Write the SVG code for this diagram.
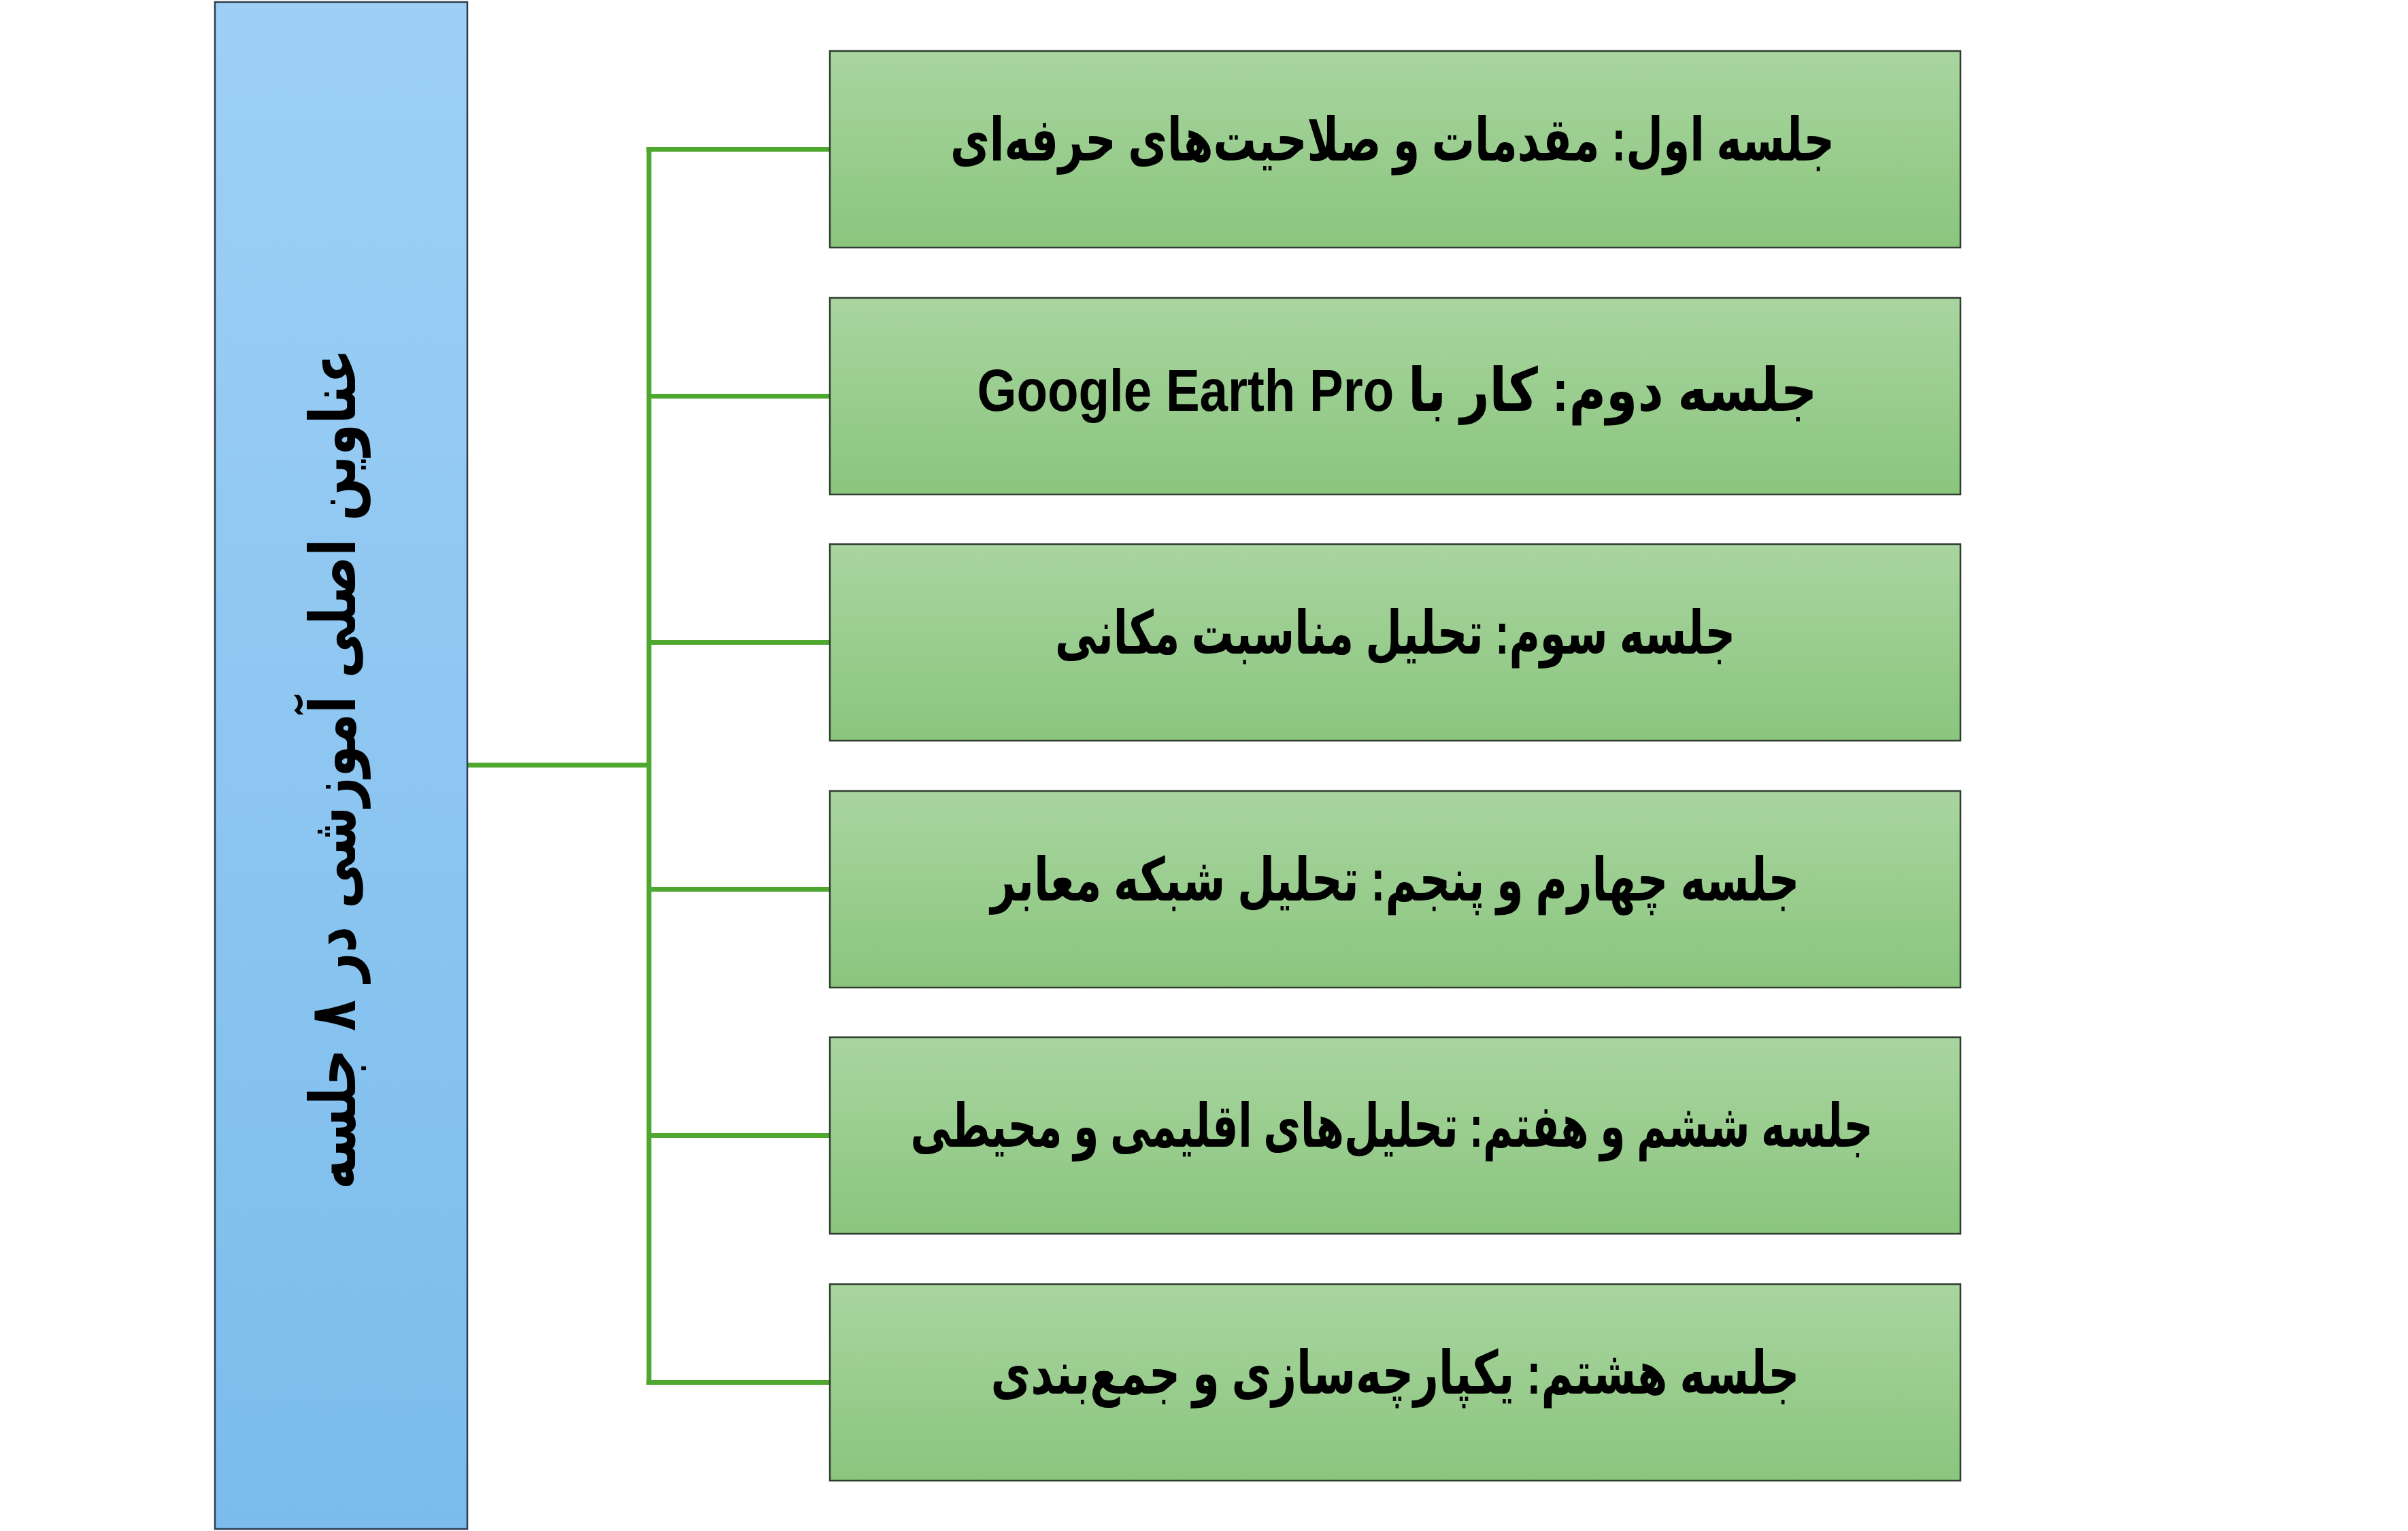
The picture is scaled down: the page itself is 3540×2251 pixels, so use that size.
<svg xmlns="http://www.w3.org/2000/svg" width="3540" height="2251" viewBox="0 0 3540 2251">
  <defs>
    <linearGradient id="gBlue" x1="0" y1="0" x2="0" y2="1">
      <stop offset="0" stop-color="#9ED0F6"/>
      <stop offset="1" stop-color="#7BBCEC"/>
    </linearGradient>
    <linearGradient id="gGreen" x1="0" y1="0" x2="0" y2="1">
      <stop offset="0" stop-color="#A9D5A0"/>
      <stop offset="1" stop-color="#8AC57D"/>
    </linearGradient>
  </defs>
  <style>
    .root { fill: url(#gBlue); stroke: #2E3E50; stroke-width: 2.5; }
    .box { fill: url(#gGreen); stroke: #2F3D2F; stroke-width: 2.5; }
    .conn { fill: none; stroke: #4EA72E; stroke-width: 7; stroke-linecap: butt; stroke-linejoin: miter; }
    .lbl { font-family: "Liberation Sans", "DejaVu Sans", sans-serif; font-weight: bold; font-size: 88px; fill: #000000; }
    .title { font-family: "DejaVu Sans", sans-serif; font-weight: bold; font-size: 94px; fill: #000000; }
  </style>
  <g id="connectors">
    <path class="conn" d="M687 1125 H954"/>
    <path class="conn" d="M954 216 V2036"/>
    <path class="conn" d="M950.5 219.5 H1220"/>
    <path class="conn" d="M954 582.5 H1220"/>
    <path class="conn" d="M954 944.5 H1220"/>
    <path class="conn" d="M954 1307.5 H1220"/>
    <path class="conn" d="M954 1669.5 H1220"/>
    <path class="conn" d="M950.5 2032.5 H1220"/>
  </g>
  <g id="root">
    <rect class="root" x="316" y="3" width="371" height="2245"/>
    <text class="title" direction="rtl" text-anchor="middle" transform="translate(522,1131) rotate(-90)" x="0" y="0" textLength="1236" lengthAdjust="spacingAndGlyphs">عناوین اصلی آموزشی در ۸ جلسه</text>
  </g>
  <g id="session1">
    <rect class="box" x="1220" y="75" width="1662" height="289"/>
    <text class="lbl" direction="rtl" text-anchor="middle" x="2047" y="236" textLength="1300" lengthAdjust="spacingAndGlyphs">جلسه اول: مقدمات و صلاحیت‌های حرفه‌ای</text>
  </g>
  <g id="session2">
    <rect class="box" x="1220" y="438" width="1662" height="289"/>
    <text class="lbl" direction="rtl" text-anchor="middle" x="2054" y="604" textLength="1235" lengthAdjust="spacingAndGlyphs">جلسه دوم: کار با Google Earth Pro</text>
  </g>
  <g id="session3">
    <rect class="box" x="1220" y="800" width="1662" height="289"/>
    <text class="lbl" direction="rtl" text-anchor="middle" x="2051" y="961" textLength="1000" lengthAdjust="spacingAndGlyphs">جلسه سوم: تحلیل مناسبت مکانی</text>
  </g>
  <g id="session4">
    <rect class="box" x="1220" y="1163" width="1662" height="289"/>
    <text class="lbl" direction="rtl" text-anchor="middle" x="2051" y="1324" textLength="1189" lengthAdjust="spacingAndGlyphs">جلسه چهارم و پنجم: تحلیل شبکه معابر</text>
  </g>
  <g id="session5">
    <rect class="box" x="1220" y="1525" width="1662" height="289"/>
    <text class="lbl" direction="rtl" text-anchor="middle" x="2046" y="1686" textLength="1415" lengthAdjust="spacingAndGlyphs">جلسه ششم و هفتم: تحلیل‌های اقلیمی و محیطی</text>
  </g>
  <g id="session6">
    <rect class="box" x="1220" y="1888" width="1662" height="289"/>
    <text class="lbl" direction="rtl" text-anchor="middle" x="2051" y="2049" textLength="1189" lengthAdjust="spacingAndGlyphs">جلسه هشتم: یکپارچه‌سازی و جمع‌بندی</text>
  </g>
</svg>
